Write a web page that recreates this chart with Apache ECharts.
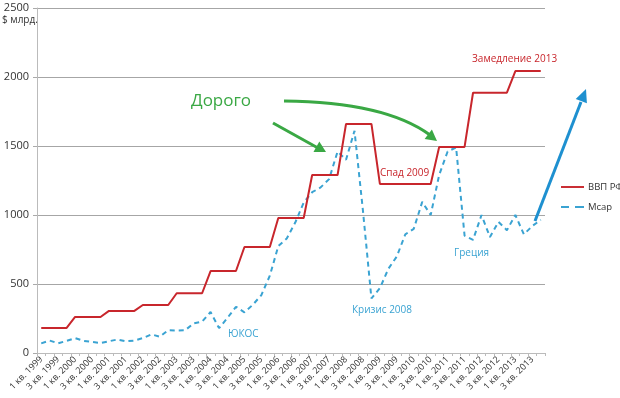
<!DOCTYPE html>
<html>
<head>
<meta charset="utf-8">
<script src="https://cdn.jsdelivr.net/npm/echarts@6/dist/echarts.min.js"></script>
<style>html,body{margin:0;padding:0;background:#fff}#c{width:620px;height:398px}</style>
</head>
<body>
<div id="c"></div>
<script>
const categories = [
"1 кв. 1999","2 кв. 1999","3 кв. 1999","4 кв. 1999",
"1 кв. 2000","2 кв. 2000","3 кв. 2000","4 кв. 2000",
"1 кв. 2001","2 кв. 2001","3 кв. 2001","4 кв. 2001",
"1 кв. 2002","2 кв. 2002","3 кв. 2002","4 кв. 2002",
"1 кв. 2003","2 кв. 2003","3 кв. 2003","4 кв. 2003",
"1 кв. 2004","2 кв. 2004","3 кв. 2004","4 кв. 2004",
"1 кв. 2005","2 кв. 2005","3 кв. 2005","4 кв. 2005",
"1 кв. 2006","2 кв. 2006","3 кв. 2006","4 кв. 2006",
"1 кв. 2007","2 кв. 2007","3 кв. 2007","4 кв. 2007",
"1 кв. 2008","2 кв. 2008","3 кв. 2008","4 кв. 2008",
"1 кв. 2009","2 кв. 2009","3 кв. 2009","4 кв. 2009",
"1 кв. 2010","2 кв. 2010","3 кв. 2010","4 кв. 2010",
"1 кв. 2011","2 кв. 2011","3 кв. 2011","4 кв. 2011",
"1 кв. 2012","2 кв. 2012","3 кв. 2012","4 кв. 2012",
"1 кв. 2013","2 кв. 2013","3 кв. 2013","4 кв. 2013"
];
const gdp = [
182,182,182,182, 261,261,261,261, 305,305,305,305, 348,348,348,348,
433,433,433,433, 594,594,594,594, 768,768,768,768, 978,978,978,978,
1290,1290,1290,1290, 1660,1660,1660,1660,
1225,1225,1225,1225,1225,1225,1225,
1493,1493,1493,1493,
1886,1886,1886,1886,1886,
2043,2043,2043,2043
];
const mcap = [
70,90,70,88, 108,88,80,72, 85,98,85,90, 108,135,118,165,
163,165,215,228, 297,180,255,335, 295,350,420,560, 775,830,945,1090,
1165,1200,1260,1460, 1400,1610,1030,395, 470,610,700,860,
900,1095,1000,1290, 1460,1490,850,820, 1000,840,950,890,
1000,860,920,965
];
const yTicks = {min: 0, max: 2500, step: 500};
const seriesNames = ["ВВП РФ", "Mcap"];

const RED = "#C8262C", BLUE = "#3AA3D2", GREEN = "#3AA844", TXT = "#333";
const chart = echarts.init(document.getElementById("c"), null, {renderer: "canvas"});

function arrowHead(x2, y2, dx, dy, len, half, color) {
  const l = Math.hypot(dx, dy), ux = dx / l, uy = dy / l;
  const bx = x2 - ux * len, by = y2 - uy * len;
  return {type: "polygon", z: 100, shape: {points: [[x2, y2], [bx - uy * half, by + ux * half], [bx + uy * half, by - ux * half]]}, style: {fill: color}};
}

chart.setOption({
  animation: false,
  textStyle: {fontFamily: "Open Sans"},
  grid: {left: 37, right: 75, top: 8, bottom: 45},
  legend: {
    orient: "vertical", left: 561, top: 182, itemWidth: 23, itemHeight: 10, itemGap: 10, padding: 0,
    data: [
      {name: seriesNames[0], icon: "path://M0,4h24v2h-24z", itemStyle: {color: RED}},
      {name: seriesNames[1], icon: "path://M0,4h8v2h-8z M14,4h9v2h-9z", itemStyle: {color: BLUE}}
    ],
    textStyle: {fontSize: 9.5, color: TXT, fontFamily: "Open Sans", padding: [0, 0, 0, -1]}
  },
  xAxis: {
    type: "category", data: categories, boundaryGap: true,
    axisLine: {lineStyle: {color: "#bbb"}},
    axisTick: {show: true, interval: 0, length: 3, lineStyle: {color: "#bbb"}},
    axisLabel: {interval: 1, rotate: 45, fontSize: 9, color: TXT, margin: 5, fontFamily: "Open Sans"}
  },
  yAxis: {
    type: "value", min: yTicks.min, max: yTicks.max, interval: yTicks.step,
    axisLine: {show: true, lineStyle: {color: "#bbb"}},
    axisTick: {show: true, length: 4, lineStyle: {color: "#aaa"}},
    axisLabel: {fontSize: 11, color: TXT, margin: 8, fontFamily: "Open Sans", formatter: v => String(v)},
    splitLine: {lineStyle: {color: "#a6a6a6", width: 1}}
  },
  series: [
    {name: seriesNames[0], type: "line", data: gdp, symbol: "none", color: RED,
     lineStyle: {color: RED, width: 2}, z: 3},
    {name: seriesNames[1], type: "line", data: mcap, symbol: "none", color: BLUE,
     lineStyle: {color: BLUE, width: 2, type: [5, 4]}, z: 2}
  ],
  graphic: [
    {type: "text", left: 2, top: 15, style: {text: "$ млрд.", fontSize: 10, fill: TXT, fontFamily: "Open Sans"}},
    {type: "text", left: 191, top: 93, style: {text: "Дорого", fontSize: 17, fill: GREEN, fontFamily: "Open Sans"}},
    {type: "text", left: 380, top: 168, style: {text: "Спад 2009", fontSize: 10, fill: RED, fontFamily: "Open Sans"}},
    {type: "text", left: 472, top: 54, style: {text: "Замедление 2013", fontSize: 10, fill: RED, fontFamily: "Open Sans"}},
    {type: "text", left: 352, top: 305, style: {text: "Кризис 2008", fontSize: 10, fill: BLUE, fontFamily: "Open Sans"}},
    {type: "text", left: 454, top: 248, style: {text: "Греция", fontSize: 10, fill: BLUE, fontFamily: "Open Sans"}},
    {type: "text", left: 228, top: 329, style: {text: "ЮКОС", fontSize: 10, fill: BLUE, fontFamily: "Open Sans"}},
    {type: "line", z: 100, shape: {x1: 273, y1: 123, x2: 318, y2: 148}, style: {stroke: GREEN, lineWidth: 3}},
    arrowHead(326, 152, 52, 29, 11, 6, GREEN),
    {type: "bezierCurve", z: 100, shape: {x1: 284, y1: 101, x2: 430, y2: 135, cpx1: 385, cpy1: 102}, style: {stroke: GREEN, lineWidth: 3, fill: null}},
    arrowHead(437, 141, 50, 38, 11, 6, GREEN),
    {type: "line", z: 100, shape: {x1: 535, y1: 221, x2: 581, y2: 102}, style: {stroke: "#1E90D0", lineWidth: 3}},
    arrowHead(586, 89, 50, -130, 13, 6, "#1E90D0")
  ]
});
</script>
</body>
</html>
